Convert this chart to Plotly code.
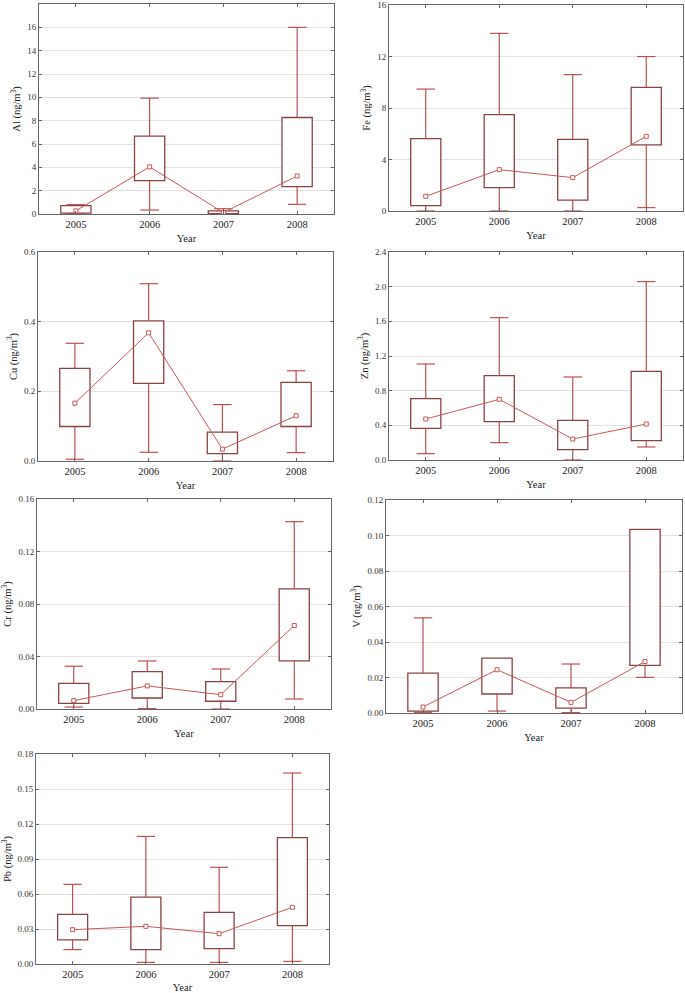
import plotly.graph_objects as go

years = ["2005", "2006", "2007", "2008"]

# whisker low, Q1, median, Q3, whisker high for each year (ng/m3)
al_lo = [0.02, 0.34, 0.0, 0.83]
al_q1 = [0.08, 2.86, 0.03, 2.35]
al_med = [0.27, 4.04, 0.12, 3.26]
al_q3 = [0.72, 6.67, 0.27, 8.27]
al_hi = [0.80, 9.93, 0.45, 16.0]

fe_lo = [0.0, 0.0, 0.0, 0.26]
fe_q1 = [0.41, 1.81, 0.85, 5.13]
fe_med = [1.14, 3.21, 2.59, 5.80]
fe_q3 = [5.62, 7.48, 5.57, 9.60]
fe_hi = [9.47, 13.8, 10.59, 11.99]

cu_lo = [0.005, 0.025, 0.0, 0.024]
cu_q1 = [0.099, 0.223, 0.021, 0.099]
cu_med = [0.166, 0.368, 0.034, 0.130]
cu_q3 = [0.266, 0.402, 0.083, 0.226]
cu_hi = [0.338, 0.509, 0.162, 0.259]

zn_lo = [0.073, 0.20, 0.0, 0.15]
zn_q1 = [0.365, 0.442, 0.119, 0.223]
zn_med = [0.473, 0.700, 0.242, 0.415]
zn_q3 = [0.708, 0.973, 0.458, 1.023]
zn_hi = [1.108, 1.642, 0.958, 2.058]

cr_lo = [0.0015, 0.0003, 0.0, 0.0076]
cr_q1 = [0.0043, 0.0084, 0.0059, 0.0366]
cr_med = [0.0064, 0.0176, 0.0109, 0.0636]
cr_q3 = [0.0196, 0.0285, 0.0209, 0.0916]
cr_hi = [0.0326, 0.0366, 0.0305, 0.1427]

v_lo = [0.0004, 0.0011, 0.0002, 0.0201]
v_q1 = [0.0011, 0.0107, 0.0028, 0.0268]
v_med = [0.0034, 0.0244, 0.0060, 0.0290]
v_q3 = [0.0225, 0.0309, 0.0141, 0.1035]
v_hi = [0.0536, 0.0309, 0.0276, 0.1035]

pb_lo = [0.0123, 0.0014, 0.0014, 0.0023]
pb_q1 = [0.0206, 0.0123, 0.0131, 0.0329]
pb_med = [0.0294, 0.0323, 0.0260, 0.0486]
pb_q3 = [0.0426, 0.0574, 0.0443, 0.1083]
pb_hi = [0.0683, 0.1094, 0.0829, 0.1637]

BOX = "#8a4444"
WHISK = "#b84343"
MED = "#c45a58"
CAP = 0.125
W, H = 685, 993
SERIF = "Liberation Serif"

# name, stats, y max, dtick, tick format, pixel box (left, right, top, bottom)
panels = [
    ("Al", (al_lo, al_q1, al_med, al_q3, al_hi), 18, 2, "d", (39, 334, 4, 214)),
    ("Fe", (fe_lo, fe_q1, fe_med, fe_q3, fe_hi), 16, 4, "d", (389, 683, 5, 211)),
    ("Cu", (cu_lo, cu_q1, cu_med, cu_q3, cu_hi), 0.6, 0.2, ".1f", (38, 333, 252, 461)),
    ("Zn", (zn_lo, zn_q1, zn_med, zn_q3, zn_hi), 2.4, 0.4, ".1f", (389, 683, 252, 460)),
    ("Cr", (cr_lo, cr_q1, cr_med, cr_q3, cr_hi), 0.16, 0.04, ".2f", (37, 331, 499, 709)),
    ("V", (v_lo, v_q1, v_med, v_q3, v_hi), 0.12, 0.02, ".2f", (386, 682, 500, 713)),
    ("Pb", (pb_lo, pb_q1, pb_med, pb_q3, pb_hi), 0.18, 0.03, ".2f", (36, 329, 754, 964)),
]


def whiskers(lo, q1, q3, hi):
    xs, ys = [], []
    for i in range(len(lo)):
        for a, b in ((q3[i], hi[i]), (q1[i], lo[i])):
            if a == b:
                continue
            xs += [i, i, None, i - CAP, i + CAP, None]
            ys += [a, b, None, b, b, None]
    return xs, ys


fig = go.Figure()
pos = list(range(len(years)))

for n, (name, (lo, q1, med, q3, hi), ymax, dt, fmt, box) in enumerate(panels, start=1):
    sfx = "" if n == 1 else str(n)
    xa, ya = "x" + sfx, "y" + sfx

    fig.add_trace(go.Bar(
        x=pos, base=q1, y=[b - a for a, b in zip(q1, q3)], width=0.41,
        marker=dict(color="white", line=dict(color=BOX, width=1.3)),
        xaxis=xa, yaxis=ya, showlegend=False, hoverinfo="skip",
    ))
    wx, wy = whiskers(lo, q1, q3, hi)
    fig.add_trace(go.Scatter(
        x=wx, y=wy, mode="lines", line=dict(color=WHISK, width=1.1),
        xaxis=xa, yaxis=ya, showlegend=False, hoverinfo="skip",
    ))
    fig.add_trace(go.Scatter(
        x=pos, y=med, mode="lines+markers",
        line=dict(color=MED, width=1),
        marker=dict(symbol="square", size=4, color="white",
                    line=dict(color=MED, width=1)),
        xaxis=xa, yaxis=ya, showlegend=False,
    ))

    l, r, t, b = box
    axis_common = dict(
        showline=True, linecolor="#666666", linewidth=1, mirror="ticks",
        ticks="inside", ticklen=3, tickcolor="#666666",
        zeroline=False, automargin=False,
    )
    fig.layout["xaxis" + sfx] = dict(
        domain=[l / W, r / W], anchor=ya, range=[-0.5, 3.5],
        tickmode="array", tickvals=pos, ticktext=years,
        showgrid=False,
        tickfont=dict(family=SERIF, size=10.5, color="#222222"),
        title=dict(text="Year", standoff=6,
                   font=dict(family=SERIF, size=10.5, color="#222222")),
        **axis_common,
    )
    fig.layout["yaxis" + sfx] = dict(
        domain=[1 - b / H, 1 - t / H], anchor=xa, range=[0, ymax],
        dtick=dt, tick0=0, tickformat=fmt,
        showgrid=True, gridcolor="#e3e3e3", gridwidth=1,
        tickfont=dict(family=SERIF, size=9, color="#333333"),
        title=dict(text=name + " (ng/m<sup>3</sup>)", standoff=4,
                   font=dict(family=SERIF, size=10.5, color="#222222")),
        **axis_common,
    )

fig.update_layout(
    width=W, height=H,
    margin=dict(l=0, r=0, t=0, b=0),
    paper_bgcolor="white", plot_bgcolor="white",
    barmode="overlay",
)

# the page body has a default 8px margin; drop it so the figure fills the window
fig.write_html("out.html", config={"displayModeBar": False},
               post_script="document.body.style.margin = '0px';")
